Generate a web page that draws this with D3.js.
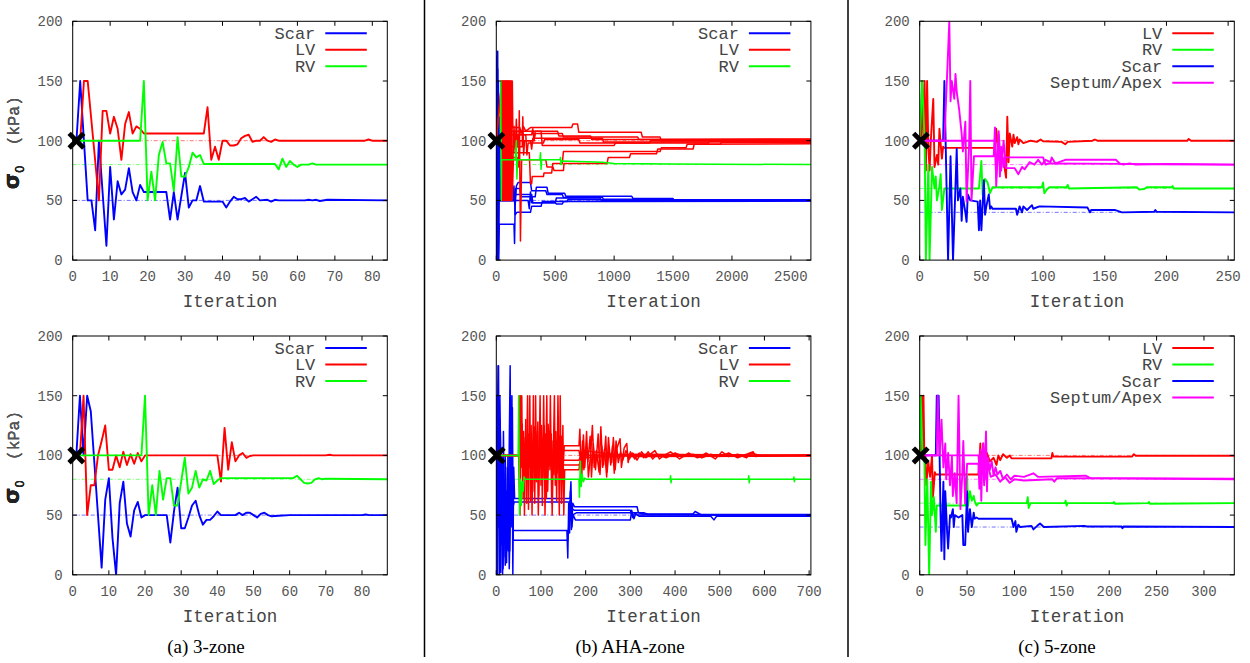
<!DOCTYPE html>
<html>
<head>
<meta charset="utf-8">
<script src="https://cdn.jsdelivr.net/npm/d3@7"></script>
<style>
	body { margin: 0; background: #fff; }
	text { font-family: "Liberation Mono", monospace; }
</style>
</head>
<body>
<svg id="fig" width="1250" height="663"></svg>
<script>
////////////////////////////////////////
// sigma_0 convergence, 3-zone / AHA-zone / 5-zone
////////////////////////////////////////

var BLUE = "#0000ff", RED = "#ff0000", GREEN = "#00ff00", MAGENTA = "#ff00ff";

// ---- (a) 3-zone, top run
var z3aScar = [[1,100],[2,150],[3,100],[4,50],[5,50],[6,25],[7,100],[9,12],[10,78],[11,34],[12,66],[13,55],[14,59],[15,77],[16,57],[17,50],[18,63],[19,57],[25,57],[26,34],[27,57],[28,34],[30,73],[31,44],[32,50],[33,50],[34,62],[35,49],[40,49],[41,44],[42,49],[43,53],[44,51],[45,51],[46,52],[47,49],[48,51],[49,53],[50,50],[52,50.5],[53,49],[54,50.5],[55,50],[62,50],[63,50.5],[64,50],[65,50.5],[66,49.5],[68,50.5],[84,50]];
var z3aLV = [[1,100],[2,100],[3,150],[4,150],[7,50],[8,125],[9,125],[10,106],[11,120],[12,110],[13,84],[14,114],[15,124],[16,106],[17,112],[18,110],[19,106],[35,106],[36,128],[37,84],[38,95],[39,84],[40,100],[41,100],[42,96],[43,96],[44,97],[45,102],[46,104],[47,105],[48,99],[49,100],[50,100],[51,103],[52,100],[53,99],[54,101],[55,100],[78,100],[79,101],[80,100],[84,100]];
var z3aRV = [[1,100],[18,100],[19,150],[20,50],[21,74],[22,50],[23,88],[24,99],[25,81],[26,81],[27,58],[28,103],[29,70],[30,70],[31,78],[32,90],[33,86],[34,88],[35,80.5],[54,80.5],[55,76],[56,85],[57,78],[58,83],[59,80],[60,78],[61,80],[63,80],[64,81],[65,80],[84,80]];

// ---- (a) 3-zone, bottom run
var z3bScar = [[1,100],[2,150],[3,100],[4,150],[5,137],[8,6],[9,63],[10,81],[11,31],[12,0],[13,60],[14,78],[15,43],[16,32],[17,54],[18,61],[19,48],[20,50],[26,50],[27,27],[28,53],[29,73],[30,39],[31,39],[32,48],[33,58],[34,62],[35,50],[36,42],[37,46],[38,46],[39,49],[40,53],[41,50],[45,50],[46,52],[47,50],[48,52],[49,52],[50,50],[51,48],[52,51],[53,52],[54,50],[55,49],[57,49.5],[60,50],[80,50],[81,50.5],[82,50],[87,50]];
var z3bLV = [[1,100],[2,100],[3,150],[4,50],[5,75],[6,75],[7,100],[8,112],[9,125],[10,88],[11,88],[12,100],[13,90],[14,103],[15,92],[16,101],[17,93],[18,102],[19,95],[20,100],[40,100],[41,78],[42,123],[43,88],[44,111],[45,95],[46,100],[47,102],[48,98],[49,99.5],[50,100],[70,100],[71,100.5],[72,100],[87,100]];
var z3bRV = [[1,100],[19,100],[20,150],[21,50],[22,75],[23,50],[24,87],[25,63],[26,81],[27,81],[28,58],[29,58],[30,78],[31,98],[32,68],[33,73],[34,87],[35,73],[36,80],[37,79],[38,87],[39,76],[40,79],[41,81],[61,81],[62,83],[63,80],[64,77],[65,76.5],[66,77],[67,80],[68,81],[69,80],[70,80.5],[87,80]];

// ---- (b) AHA-zone, top run (one line per segment)
var ahaAScar1 = [[0,100],[3,0],[6,175],[9,0],[12,175],[15,20],[18,150],[21,0],[24,120],[27,50],[30,100],[35,50],[140,50],[150,62],[160,38],[175,40],[290,40],[300,45],[380,45],[390,49],[600,49],[610,51],[900,50.5],[2670,50]];
var ahaAScar2 = [[0,100],[4,170],[8,0],[12,160],[18,5],[25,30],[150,30],[155,14],[160,45],[170,62],[185,65],[290,65],[300,58],[420,58],[430,55],[560,55],[570,52.5],[900,52.5],[910,51],[1400,51],[1410,50.5],[2670,50.5]];
var ahaAScar3 = [[0,100],[5,0],[10,150],[16,0],[22,70],[30,50],[160,50],[165,60],[200,60],[210,53],[330,53],[340,61],[430,61],[440,56],[580,56],[590,53.5],[1150,53.5],[1160,51.5],[1500,51.5],[1510,50],[2670,50]];
var ahaAScar4 = [[0,100],[7,140],[14,10],[22,50],[150,50],[155,55],[300,55],[310,48],[500,48],[510,47],[560,47],[570,49],[1000,49],[2670,49.5]];
var ahaAScar5 = [[0,100],[10,60],[25,50],[270,50],[280,43],[290,57],[300,48],[500,48],[510,52],[880,52],[890,50],[2670,50]];
var ahaALV1 = [[0,100],[45,150],[50,50],[55,150],[60,50],[65,150],[70,50],[75,150],[80,50],[85,150],[90,50],[95,150],[100,50],[105,150],[110,50],[115,150],[120,50],[125,150],[130,50],[136,150],[140,111],[200,111],[210,106],[230,112],[250,108],[290,111],[640,111],[650,114],[690,114],[700,107],[1230,107],[1240,103],[1390,103],[1400,100],[2670,100]];
var ahaALV2 = [[0,100],[47,150],[52,50],[57,150],[62,50],[67,150],[72,50],[77,150],[82,50],[87,150],[92,50],[97,150],[102,50],[107,150],[112,50],[117,150],[122,50],[127,150],[132,50],[138,60],[145,84],[190,84],[195,125],[205,16],[215,84],[420,84],[430,78],[480,78],[490,75],[570,75],[575,81],[940,81],[950,86],[1130,86],[1140,89],[1360,89],[1370,93],[1670,93],[1680,97],[1900,97],[1910,98.5],[2670,98.5]];
var ahaALV3 = [[0,100],[140,80],[150,112],[160,90],[170,118],[180,95],[190,105],[300,105],[310,110],[320,100],[330,106],[560,106],[570,103],[1200,103],[1210,101],[2670,101.5]];
var ahaALV4 = [[0,100],[140,95],[220,95],[225,120],[232,88],[240,100],[290,100],[300,93],[310,102],[900,102],[910,99],[2670,99]];
var ahaALV5 = [[0,100],[140,90],[280,90],[290,64],[300,64],[305,70],[400,70],[405,73],[470,73],[480,81],[560,81],[570,91],[1390,91],[1400,94],[1610,94],[1620,97],[2670,97.5]];
var ahaALV6 = [[0,100],[140,105],[250,105],[260,88],[270,98],[400,98],[410,101],[700,101],[710,98],[1300,98],[1310,100],[2670,100]];
var ahaALV7 = [[0,100],[140,86],[180,86],[190,78],[200,100],[320,100],[330,108],[520,108],[530,104],[800,104],[810,101],[2670,101]];
var ahaALV8 = [[0,100],[140,108],[380,108],[390,96],[1000,96],[1010,98],[1800,98],[1810,99.5],[2670,99.5]];
var ahaARV = [[0,100],[35,100],[38,150],[42,50],[45,84],[160,84],[170,100],[175,68],[180,84],[370,84],[375,90],[380,76],[385,84],[540,84],[545,86],[550,80],[555,83],[900,82],[1000,81],[1500,80.5],[2670,80]];

// ---- (b) AHA-zone, bottom run
var ahaBScar1 = [[0,100],[2,50],[3,150],[5,175],[7,0],[9,120],[11,30],[13,100],[15,5],[17,60],[19,35],[21,90],[23,10],[25,55],[27,20],[29,110],[31,175],[33,40],[35,150],[37,0],[39,90],[41,64],[165,64],[167,78],[169,40],[171,60],[175,57],[315,57],[318,52],[330,51],[440,51],[445,53],[460,50],[704,50]];
var ahaBScar2 = [[0,100],[1,150],[3,0],[4,175],[6,40],[8,130],[10,2],[12,80],[14,25],[16,120],[18,45],[20,8],[22,70],[24,30],[26,100],[28,60],[30,20],[32,150],[34,65],[36,140],[38,37],[158,37],[160,14],[162,60],[164,35],[166,70],[168,45],[170,55],[175,54],[300,54],[305,48],[310,52],[316,50],[600,50],[704,50]];
var ahaBScar3 = [[0,100],[2,0],[5,125],[8,20],[11,90],[14,0],[17,40],[20,100],[23,25],[26,80],[29,5],[32,60],[35,90],[38,29],[160,29],[162,40],[165,62],[168,38],[172,50],[177,46],[300,46],[303,54],[308,47],[312,51],[320,49],[480,49],[487,46],[493,49],[704,49]];
var ahaBScar4 = [[0,100],[4,60],[8,150],[12,35],[16,80],[20,15],[24,68],[28,40],[32,95],[36,55],[40,61],[165,61],[170,50],[180,52],[330,52],[340,50.5],[704,50.5]];
var ahaBLV1 = [[0,100],[50,100],[51,150],[53,50],[55,125],[57,150],[59,70],[61,120],[63,50],[65,115],[67,80],[70,150],[72,55],[74,110],[76,90],[78,125],[80,50],[83,150],[85,70],[87,118],[89,85],[92,120],[94,50],[98,150],[100,75],[102,115],[104,80],[107,125],[109,50],[113,150],[115,70],[118,120],[120,88],[123,118],[125,50],[130,150],[132,75],[134,112],[136,85],[139,115],[141,50],[143,150],[145,80],[147,116],[150,92],[152,108],[185,108],[187,122],[190,85],[193,112],[196,88],[200,105],[205,95],[210,116],[213,82],[217,110],[222,88],[228,118],[232,84],[236,108],[240,92],[245,116],[248,86],[252,104],[258,94],[262,115],[266,88],[270,106],[277,114],[280,90],[286,106],[292,110],[295,94],[300,103],[310,97],[320,102],[330,98],[340,103],[350,97],[360,101],[380,98],[400,102],[420,99],[440,101],[460,98],[480,101],[500,99],[520,102],[540,98],[560,101],[575,103],[580,99],[600,100],[704,100]];
var ahaBLV2 = [[0,100],[50,100],[52,60],[54,150],[56,90],[58,126],[60,64],[62,110],[64,95],[66,130],[68,60],[71,118],[73,96],[75,150],[77,62],[79,112],[81,88],[84,124],[86,60],[88,150],[90,78],[93,128],[95,66],[97,106],[99,90],[101,125],[103,58],[106,150],[108,82],[110,118],[112,64],[116,126],[119,92],[121,150],[124,60],[127,112],[129,84],[133,120],[135,62],[138,150],[140,90],[142,116],[146,60],[149,125],[151,50],[153,88],[185,88],[188,96],[191,80],[195,117],[198,90],[202,120],[206,82],[211,100],[215,125],[219,90],[224,104],[230,86],[234,124],[238,90],[242,105],[247,82],[251,115],[256,92],[260,108],[264,85],[268,112],[273,94],[278,103],[283,96],[290,104],[298,97],[305,102],[315,96],[325,103],[335,98],[345,101],[355,104],[365,97],[375,100],[390,103],[410,97],[430,102],[450,98],[470,102],[490,97],[505,103],[520,99],[540,101],[560,98],[570,102],[590,100],[704,100.5]];
var ahaBLV3 = [[0,100],[50,100],[60,96],[152,96],[185,96],[190,100],[194,90],[198,104],[300,99],[704,99.5]];
var ahaBLV4 = [[0,100],[50,100],[60,104],[152,104],[185,104],[190,94],[196,100],[300,101],[704,100]];
var ahaBLV5 = [[0,100],[50,100],[60,92],[152,92],[185,92],[192,98],[300,100],[704,100]];
var ahaBRV = [[0,100],[49,100],[50,150],[52,50],[54,80],[56,58],[58,78],[60,70],[62,82],[65,80],[185,80],[186,65],[188,95],[190,74],[192,84],[195,78],[198,81],[202,80],[389,80],[390,83],[391,77],[392,80],[564,80],[565,83],[566,77],[567,80],[665,80],[666,82],[667,78],[668,80],[704,80]];

// ---- (c) 5-zone, top run
var z5aLV = [[0,100],[1,100],[2,150],[3,100],[4,150],[5,75],[6,150],[7,95],[8,75],[9,100],[11,135],[12,78],[14,88],[15,80],[16,110],[18,85],[19,95],[20,94],[61,94],[62,110],[64,86],[66,90],[68,83],[70,69],[71,120],[72,82],[73,106],[75,95],[76,105],[77,98],[79,103],[80,97],[81,101],[84,98],[90,100],[95,99],[98,101],[100,99.5],[115,99],[118,97],[120,99],[140,100],[142,101],[144,100],[217,100],[218,101.5],[220,100],[255,100]];
var z5aRV = [[0,100],[2,150],[4,100],[5,0],[7,80],[8,0],[10,78],[12,60],[13,70],[14,50],[16,62],[17,72],[18,42],[20,60],[48,60],[50,83],[51,55],[53,68],[55,65],[57,56],[59,61],[99,61],[100,65],[101,56],[103,59],[105,61],[119,61],[120,63],[121,60],[176,61],[178,59],[182,59.5],[184,61],[204,61],[205,62],[206,60],[255,60]];
var z5aScar = [[0,100],[19,100],[20,150],[23,0],[25,87],[27,0],[30,93],[31,50],[33,60],[34,33],[35,53],[37,40],[38,32],[39,55],[41,50],[47,49],[48,25],[49,50],[50,25],[52,67],[53,38],[54,45],[56,55],[57,43],[58,45],[59,43],[78,43],[79,38],[81,45],[83,40],[84,45],[87,42],[91,46],[92,43],[97,45],[136,44],[138,40],[139,42],[158,42],[164,40],[190,40.5],[191,42],[192,40.5],[255,40]];
var z5aSept = [[0,100],[20,100],[22,150],[24,200],[25,133],[26,150],[28,135],[29,156],[30,141],[32,126],[34,106],[35,91],[37,116],[38,49],[40,95],[41,150],[42,50],[44,87],[60,87],[61,111],[62,62],[64,105],[65,70],[66,95],[68,78],[69,86],[100,86],[102,80],[104,81],[255,80]];
var z5aApex = [[0,100],[61,100],[62,70],[64,108],[66,75],[68,100],[70,77],[77,77],[80,72],[83,78],[85,76],[89,82],[93,80],[96,84],[99,80],[102,84],[106,82],[107,86],[110,81],[118,84],[159,84],[162,81],[165,80],[170,81],[175,80],[200,80.5],[255,80]];

// ---- (c) 5-zone, bottom run
var z5bLV = [[0,100],[1,100],[2,150],[3,100],[4,150],[5,95],[6,100],[7,75],[9,95],[11,82],[13,100],[14,65],[16,86],[17,84],[62,84],[64,110],[65,85],[67,110],[69,92],[71,102],[74,95],[78,98],[81,92],[83,100],[85,96],[88,101],[92,98],[95,100],[97,97.5],[139,97.5],[140,102],[141,99],[224,99],[226,101],[228,99.7],[332,99.7]];
var z5bRV = [[0,100],[1,150],[3,100],[5,95],[6,25],[8,80],[10,0],[12,78],[13,50],[15,65],[17,36],[18,58],[48,58],[50,84],[51,58],[53,70],[55,62],[57,66],[58,62],[60,58],[62,60],[113,60],[114,65],[115,56],[117,60],[153,60],[154,62],[155,58],[156,60],[204,60],[205,61],[206,59.5],[241,60],[242,61],[243,59.5],[332,60]];
var z5bScar = [[0,100],[17,100],[18,150],[20,150],[22,50],[23,20],[25,78],[26,13],[27,70],[29,35],[30,22],[32,50],[33,48],[35,55],[36,40],[37,50],[41,48],[45,50],[46,25],[48,25],[50,70],[51,36],[53,55],[55,40],[57,52],[58,47],[60,48],[62,47],[97,47],[99,40],[101,45],[102,36],[104,42],[106,40],[118,41],[120,38],[124,41],[127,43],[131,40],[174,41],[176,40.5],[213,40.5],[214,39],[215,40.5],[332,40]];
var z5bSept = [[0,100],[18,100],[19,150],[21,100],[23,130],[25,90],[27,110],[28,80],[30,102],[32,75],[34,99],[35,66],[37,85],[39,60],[41,150],[43,55],[45,85],[46,112],[48,60],[50,93],[62,93],[63,72],[64,105],[65,62],[66,95],[67,110],[68,75],[70,120],[71,70],[72,98],[74,88],[76,95],[78,83],[80,90],[82,84],[85,87],[88,80],[92,84],[96,80],[100,83],[110,82],[120,85],[125,82],[175,83],[180,81],[332,80]];
var z5bApex = [[0,100],[62,100],[64,80],[66,100],[68,78],[72,92],[75,82],[80,84],[85,78],[90,82],[95,77],[100,80],[110,79],[140,80],[142,78],[145,81],[332,80.5]];

// tick labels / axis ranges
var yTicks = [0, 50, 100, 150, 200];
var captions = ["(a) 3-zone", "(b) AHA-zone", "(c) 5-zone"];
var captionX = [206, 630, 1057];
var legend3 = [["Scar", BLUE], ["LV", RED], ["RV", GREEN]];
var legend5 = [["LV", RED], ["RV", GREEN], ["Scar", BLUE], ["Septum/Apex", MAGENTA]];
var targets3 = [[50, BLUE], [100, RED], [80, GREEN]];
var targets5 = [[100, RED], [60, GREEN], [40, BLUE], [80, MAGENTA]];

var panels = [
	{col: 0, row: 0, xMax: 84, xStep: 10, legend: legend3, targets: targets3,
		series: [[z3aScar, BLUE], [z3aLV, RED], [z3aRV, GREEN]]},
	{col: 0, row: 1, xMax: 87, xStep: 10, legend: legend3, targets: targets3,
		series: [[z3bScar, BLUE], [z3bLV, RED], [z3bRV, GREEN]]},
	{col: 1, row: 0, xMax: 2670, xStep: 500, legend: legend3, targets: targets3,
		series: [[ahaAScar1, BLUE], [ahaAScar2, BLUE], [ahaAScar3, BLUE], [ahaAScar4, BLUE], [ahaAScar5, BLUE],
			[ahaALV1, RED], [ahaALV2, RED], [ahaALV3, RED], [ahaALV4, RED], [ahaALV5, RED], [ahaALV6, RED],
			[ahaALV7, RED], [ahaALV8, RED], [ahaARV, GREEN]]},
	{col: 1, row: 1, xMax: 704, xStep: 100, legend: legend3, targets: targets3,
		series: [[ahaBScar1, BLUE], [ahaBScar2, BLUE], [ahaBScar3, BLUE], [ahaBScar4, BLUE],
			[ahaBLV3, RED], [ahaBLV4, RED], [ahaBLV5, RED], [ahaBLV1, RED], [ahaBLV2, RED], [ahaBRV, GREEN]]},
	{col: 2, row: 0, xMax: 255, xStep: 50, legend: legend5, targets: targets5,
		series: [[z5aLV, RED], [z5aRV, GREEN], [z5aScar, BLUE], [z5aSept, MAGENTA], [z5aApex, MAGENTA]]},
	{col: 2, row: 1, xMax: 332, xStep: 50, legend: legend5, targets: targets5,
		series: [[z5bLV, RED], [z5bRV, GREEN], [z5bScar, BLUE], [z5bSept, MAGENTA], [z5bApex, MAGENTA]]}
];

var svg = d3.select("#fig");
var colLeft = [72.7, 496.3, 919.7];
var rowTop = [21.3, 336];
var plotW = 314.6, plotH = 238.8;

// column separators
[424.5, 848].forEach(function(x) {
	svg.append("line")
		.attr("x1", x).attr("x2", x)
		.attr("y1", 0).attr("y2", 657)
		.attr("stroke", "#000").attr("stroke-width", 1.5);
});

panels.forEach(function(p, idx) {
	var left = colLeft[p.col], top = rowTop[p.row];
	var g = svg.append("g").attr("transform", "translate(" + left + "," + top + ")");

	var x = d3.scaleLinear().domain([0, p.xMax]).range([0, plotW]);
	var y = d3.scaleLinear().domain([0, 200]).range([plotH, 0]);
	var xTicks = d3.range(0, p.xMax + 1, p.xStep);

	g.append("clipPath").attr("id", "clip" + idx)
		.append("rect").attr("width", plotW).attr("height", plotH);

	var plot = g.append("g").attr("clip-path", "url(#clip" + idx + ")");

	// target values, dash-dot
	p.targets.forEach(function(t) {
		plot.append("line")
			.attr("x1", x(0)).attr("x2", x(p.xMax))
			.attr("y1", y(t[0])).attr("y2", y(t[0]))
			.attr("stroke", t[1]).attr("stroke-opacity", 0.55)
			.attr("stroke-width", 1)
			.attr("stroke-dasharray", "4,2,1,2");
	});

	var line = d3.line()
		.x(function(d) { return x(d[0]); })
		.y(function(d) { return y(d[1]); });

	p.series.forEach(function(s) {
		plot.append("path")
			.datum(s[0])
			.attr("d", line)
			.attr("fill", "none")
			.attr("stroke", s[1])
			.attr("stroke-width", p.col === 1 ? 1.5 : 1.9)
			.attr("stroke-linejoin", "round");
	});

	// starting guess marker
	var mx = x(1), my = y(100), r = 5.6;
	[[-r, -r, r, r], [-r, r, r, -r]].forEach(function(c) {
		g.append("line")
			.attr("x1", mx + c[0]).attr("y1", my + c[1])
			.attr("x2", mx + c[2]).attr("y2", my + c[3])
			.attr("stroke", "#000").attr("stroke-width", 4.8)
			.attr("stroke-linecap", "square");
	});

	// frame and inward ticks on all four sides
	g.append("rect")
		.attr("width", plotW).attr("height", plotH)
		.attr("fill", "none").attr("stroke", "#000").attr("stroke-width", 1);

	var tickLen = 4.5;
	xTicks.forEach(function(v) {
		g.append("line").attr("x1", x(v)).attr("x2", x(v))
			.attr("y1", plotH).attr("y2", plotH - tickLen).attr("stroke", "#000");
		g.append("line").attr("x1", x(v)).attr("x2", x(v))
			.attr("y1", 0).attr("y2", tickLen).attr("stroke", "#000");
		g.append("text")
			.attr("x", x(v)).attr("y", plotH + 21)
			.attr("text-anchor", "middle")
			.attr("font-size", 14).attr("fill", "#555")
			.text(v);
	});
	yTicks.forEach(function(v) {
		g.append("line").attr("x1", 0).attr("x2", tickLen)
			.attr("y1", y(v)).attr("y2", y(v)).attr("stroke", "#000");
		g.append("line").attr("x1", plotW).attr("x2", plotW - tickLen)
			.attr("y1", y(v)).attr("y2", y(v)).attr("stroke", "#000");
		g.append("text")
			.attr("x", -10).attr("y", y(v) + 5)
			.attr("text-anchor", "end")
			.attr("font-size", 14).attr("fill", "#555")
			.text(v);
	});

	// axis titles
	g.append("text")
		.attr("x", plotW / 2).attr("y", plotH + 47)
		.attr("text-anchor", "middle")
		.attr("font-size", 17.5).attr("fill", "#444")
		.text("Iteration");

	var yl = g.append("text")
		.attr("transform", "translate(" + (19 - left) + "," + (plotH / 2 + 2) + ") rotate(-90)")
		.attr("text-anchor", "middle");
	yl.append("tspan")
		.style("font-family", "'DejaVu Sans', sans-serif")
		.attr("font-size", 21).attr("font-weight", "bold").attr("fill", "#222")
		.text("\u03c3");
	yl.append("tspan")
		.style("font-family", "'DejaVu Sans', sans-serif")
		.attr("font-size", 12).attr("fill", "#222").attr("dy", 5)
		.text("0");
	yl.append("tspan")
		.attr("font-size", 16.5).attr("fill", "#555").attr("dy", -5)
		.attr("xml:space", "preserve")
		.text("  (kPa)");

	// legend
	p.legend.forEach(function(e, i) {
		var ly = 12 + i * 16.5;
		g.append("text")
			.attr("x", plotW - 72).attr("y", ly + 5.5)
			.attr("text-anchor", "end")
			.attr("font-size", 17).attr("fill", "#444")
			.text(e[0]);
		g.append("line")
			.attr("x1", plotW - 62).attr("x2", plotW - 20.5)
			.attr("y1", ly).attr("y2", ly)
			.attr("stroke", e[1]).attr("stroke-width", 2);
	});
});

// sub-figure captions
captions.forEach(function(c, i) {
	svg.append("text")
		.attr("x", captionX[i])
		.attr("y", 653)
		.attr("text-anchor", "middle")
		.style("font-family", "'Liberation Serif', serif")
		.attr("font-size", 19).attr("fill", "#000")
		.text(c);
});
</script>
</body>
</html>
